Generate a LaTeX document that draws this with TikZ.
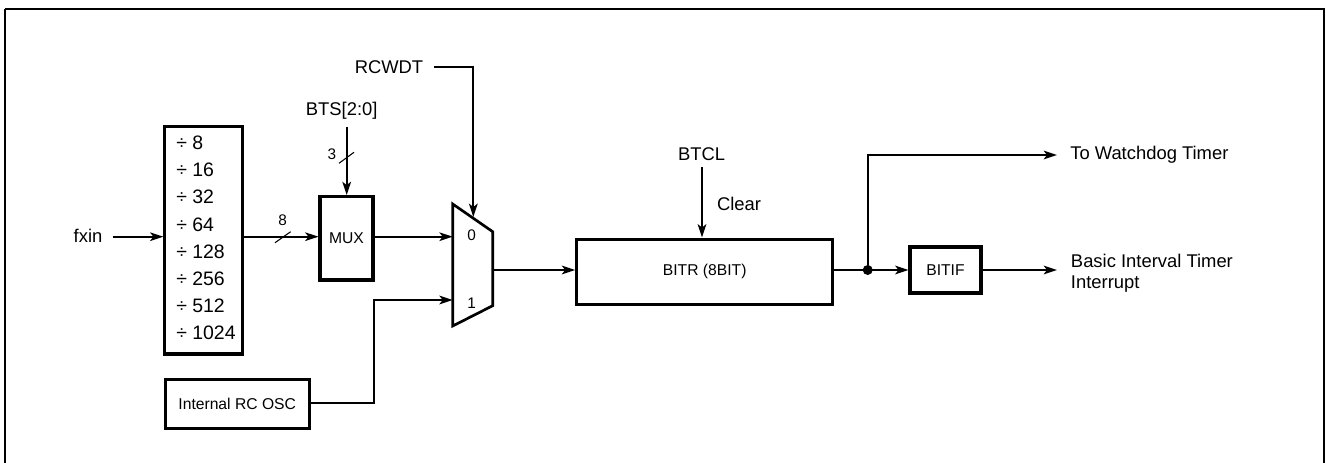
\documentclass[tikz,border=0pt]{standalone}
\usepackage{fontspec}
\setmainfont{Liberation Sans}
\usetikzlibrary{arrows.meta}
\begin{document}
\begin{tikzpicture}[x=0.75pt,y=-0.75pt,
  box/.style={draw,line width=2.3pt,inner sep=0pt,font=\fontsize{11.75}{14}\selectfont},
  big/.style={inner sep=0pt,font=\fontsize{13.8}{16}\selectfont},
  small/.style={inner sep=0pt,font=\fontsize{11.5}{14}\selectfont},
  divtxt/.style={inner sep=0pt,anchor=west,font=\fontsize{14.6}{16}\selectfont},
  wire/.style={line width=1.3pt},
  arr/.style={wire,-{Stealth[length=10pt,width=6.5pt,inset=2.5pt]}},
  slash/.style={line width=0.8pt}]
\useasboundingbox (0,0) rectangle (1326,463);
\draw[line width=1.6pt] (5,9) -- (5,470) (5,9) -- (1324,9) -- (1324,470);

% blocks
\node[box,minimum width=58.3pt,minimum height=170.5pt] (div) at (203.8,240.3) {};
\node[box,minimum width=39.75pt,minimum height=62.5pt] (mux) at (346.5,238.3) {MUX};
\node[box,minimum width=192pt,minimum height=49pt] (bitr) at (704.7,271.7) {BITR (8BIT)};
\node[box,minimum width=53.25pt,minimum height=34.5pt] (bitif) at (945.5,270) {BITIF};
\node[box,minimum width=108.2pt,minimum height=36.75pt] (osc) at (237.2,403.8) {Internal RC OSC};

% divider texts
\foreach \t [count=\i from 0] in {8,16,32,64,128,256,512,1024}
  \node[divtxt] (d\i) at (176,142.7+27.2*\i) {÷ \t};

% mux trapezoid
\coordinate (mtl) at (452.7,204);
\coordinate (mtr) at (492.7,231.7);
\coordinate (mbr) at (492.7,305.7);
\coordinate (mbl) at (452.7,326);
\draw[line width=2pt,line join=miter] (mtl) -- (mtr) -- (mbr) -- (mbl) -- cycle;
\node[small] (m0) at (471.7,235) {0};
\node[small] (m1) at (471.7,303) {1};
\coordinate (min0) at (452.7,236.7);
\coordinate (min1) at (452.7,300);
\coordinate (mout) at (492.7,270);
\coordinate (msel) at (473.3,217);

% labels
\node[big] (fxin) at (88,236) {fxin};
\node[big] (rcwdt) at (389,67) {RCWDT};
\node[big] (bts) at (341.7,110.7) {BTS[2:0]};
\node[big] (btcl) at (701.7,154) {BTCL};
\node[big] (clear) at (739,204.3) {Clear};
\node[big,anchor=west] (wdt) at (1070,155) {To Watchdog Timer};
\node[big,anchor=west,align=left,font=\fontsize{13.8}{15.5}\selectfont] (bit) at (1070.7,273) {Basic Interval Timer\\Interrupt};
\node[small] (n8) at (282.7,220) {8};
\node[small] (n3) at (332,154) {3};

% connections
\coordinate (fxs) at (112.7,236.7);
\draw[arr] (fxs) -- (fxs -| div.west);
\coordinate (dvo) at (div.east |- 0,236.7);
\draw[arr] (dvo) -- (dvo -| mux.west);
\draw[slash] (275,242.7) -- (290.7,231.7);
\coordinate (btss) at (346.7,127);
\draw[arr] (btss) -- (btss |- mux.north);
\draw[slash] (339,163.3) -- (354,152.3);
\coordinate (muxo) at (mux.east |- min0);
\draw[arr] (muxo) -- (min0);
\coordinate (rcs) at (434,67);
\draw[arr] (rcs) -| (msel);
\draw[arr] (osc.east |- 0,403.3) -- (374.3,403.3) |- (min1);
\draw[arr] (mout) -- (mout -| bitr.west);
\coordinate (btcs) at (702,167.3);
\draw[arr] (btcs) -- (btcs |- bitr.north);
\coordinate (dot) at (867.7,270);
\draw[wire] (bitr.east |- dot) -- (dot);
\fill (dot) circle (5);
\draw[arr] (dot) -- (dot -| bitif.west);
\draw[arr] (dot) |- (1057,155);
\draw[arr] (bitif.east) -- (1057,270);
\end{tikzpicture}
\end{document}
